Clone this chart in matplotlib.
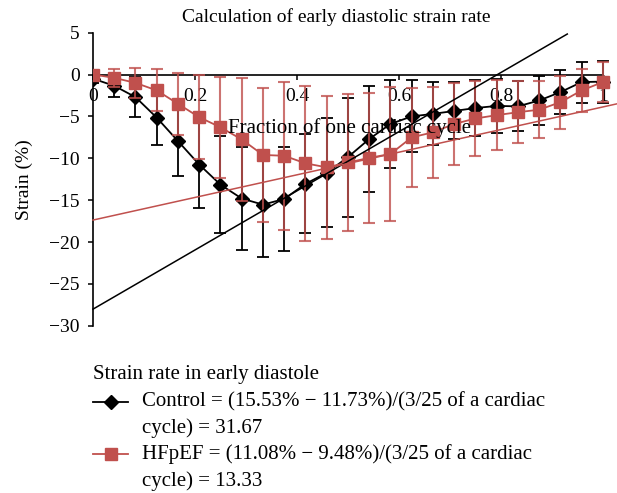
import numpy as np
import matplotlib
matplotlib.use("Agg")
import matplotlib.pyplot as plt
from matplotlib.lines import Line2D

plt.rcParams['font.family'] = ['Liberation Serif', 'DejaVu Serif']

# fraction of one cardiac cycle (25 frames)
frac = np.arange(25) / 24

control = [-0.5, -1.35, -2.7, -5.15, -7.95, -10.75, -13.15, -14.8, -15.53, -14.85,
           -13.05, -11.73, -9.85, -7.7, -5.9, -5.0, -4.7, -4.35, -4.0, -3.75,
           -3.8, -3.1, -2.1, -0.9, -0.85]
control_sd = [0.5, 1.3, 2.4, 3.3, 4.2, 5.2, 5.8, 6.1, 6.2, 6.2, 5.9, 6.5, 7.1,
              6.3, 5.25, 4.3, 3.75, 3.4, 3.3, 3.2, 3.0, 2.9, 2.6, 2.45, 2.5]

hfpef = [0.0, -0.4, -1.0, -1.9, -3.5, -5.1, -6.3, -7.75, -9.6, -9.7, -10.6,
         -11.08, -10.5, -9.95, -9.48, -7.5, -6.9, -5.9, -5.25, -4.85, -4.5,
         -4.2, -3.3, -1.9, -0.9]
hfpef_sd = [0.3, 1.1, 1.8, 2.5, 3.7, 5.0, 6.0, 7.3, 8.0, 8.85, 9.25, 8.55, 8.15,
            7.8, 8.0, 5.9, 5.4, 4.9, 4.5, 4.2, 3.7, 3.4, 3.15, 2.6, 2.4]

# linear trend lines: (slope, intercept, x end)
ctrl_trend = (35.3, -28.0, 0.93)
hf_trend = (13.5, -17.37, 1.027)

x_ticks = [0, 0.2, 0.4, 0.6, 0.8, 1]
x_labels = ['0', '0.2', '0.4', '0.6', '0.8', '1']
y_ticks = [-30, -25, -20, -15, -10, -5, 0, 5]

red = '#C0504D'
W, H = 617, 493

fig = plt.figure(figsize=(W / 100, H / 100), dpi=100)
ax = fig.add_axes([93 / W, 1 - 325.9 / H, 524 / W, (325.9 - 32.6) / H])

ax.errorbar(frac, control, yerr=control_sd, fmt='none', ecolor='black',
            elinewidth=1.3, capsize=4.5, capthick=1.3, zorder=2)
ax.plot(frac, control, color='black', lw=1.3, marker='D', ms=7, zorder=3)
ax.errorbar(frac, hfpef, yerr=hfpef_sd, fmt='none', ecolor=red, alpha=0.8,
            elinewidth=1.5, capsize=4.5, capthick=1.5, zorder=4)
ax.plot(frac, hfpef, color=red, lw=1.3, marker='s', ms=8, zorder=5)

for (k, b, xe), c in [(ctrl_trend, 'black'), (hf_trend, red)]:
    xx = np.array([0, xe])
    ax.plot(xx, k * xx + b, color=c, lw=1.1, zorder=6, clip_on=False)

ax.set_xlim(0, 1.0275)
ax.set_ylim(-30, 5)
for s in ['top', 'right']:
    ax.spines[s].set_visible(False)
ax.spines['bottom'].set_position(('data', 0))
ax.spines['bottom'].set_bounds(0, 1)
ax.spines['left'].set_bounds(-30, 5)
ax.spines['left'].set_linewidth(1.2)
ax.spines['bottom'].set_linewidth(1.2)
ax.set_xticks(x_ticks)
ax.set_xticklabels(x_labels)
ax.set_yticks(y_ticks)
ax.tick_params(axis='both', direction='out', length=3.5, width=1.1,
               labelsize=14, pad=6)

fig.text(336 / W, 1 - 17 / H, 'Calculation of early diastolic strain rate',
         ha='center', va='center', fontsize=14)
fig.text(349 / W, 1 - 128 / H, 'Fraction of one cardiac cycle',
         ha='center', va='center', fontsize=15)
fig.text(24 / W, 1 - 180 / H, 'Strain (%)', rotation=90,
         ha='center', va='center', fontsize=14)

# legend below the chart
fs = 15
fig.text(93 / W, 1 - 375 / H, 'Strain rate in early diastole',
         ha='left', va='center', fontsize=fs)
rows = [
    (401.7, 'black', 'D', 7, 'Control = (15.53% \u2212 11.73%)/(3/25 of a cardiac', 'cycle) = 31.67'),
    (454.3, red, 's', 8.5, 'HFpEF = (11.08% \u2212 9.48%)/(3/25 of a cardiac', 'cycle) = 13.33'),
]
for y, c, m, ms, l1, l2 in rows:
    fig.add_artist(Line2D([93 / W, 128 / W], [1 - y / H, 1 - y / H], color=c,
                          lw=1.3, transform=fig.transFigure))
    fig.add_artist(Line2D([110.5 / W], [1 - y / H], color=c, marker=m, ms=ms,
                          transform=fig.transFigure))
    fig.text(141.7 / W, 1 - y / H, l1, ha='left', va='center', fontsize=fs)
    fig.text(141.7 / W, 1 - (y + 26.5) / H, l2, ha='left', va='center', fontsize=fs)

fig.savefig('out.png', dpi=100)
